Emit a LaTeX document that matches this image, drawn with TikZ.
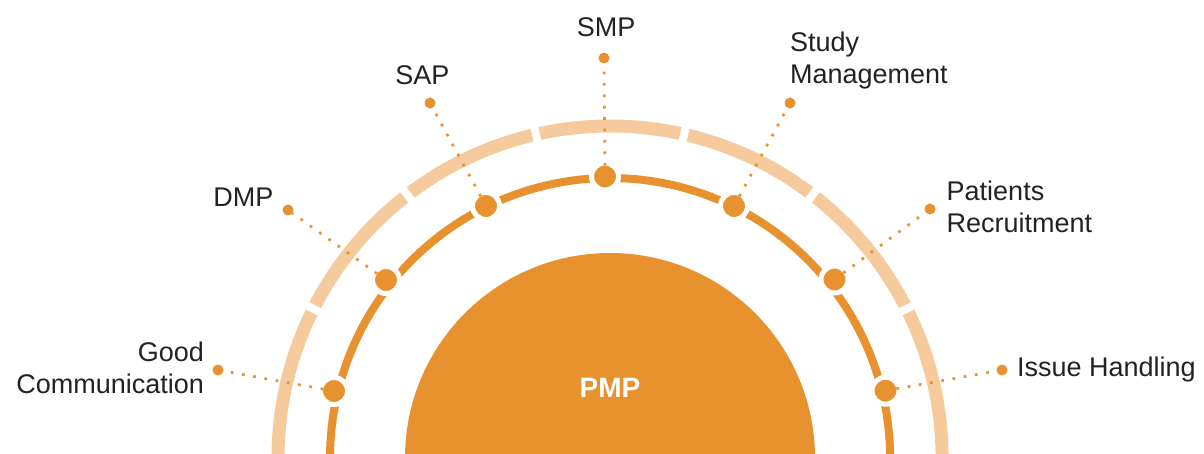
\documentclass[tikz,border=0pt]{standalone}
\usepackage{fontspec}
\setmainfont{Liberation Sans}
\definecolor{dorange}{HTML}{E8912F}
\definecolor{lorange}{HTML}{F5CB9D}
\definecolor{txt}{HTML}{222222}
\begin{document}
\begin{tikzpicture}[x=1pt,y=1pt,
  lbl/.style={font=\fontsize{27}{32}\selectfont, text=txt, inner sep=0pt, outer sep=0pt},
  mlbl/.style={lbl, text width=220pt},
  bigdot/.style={circle, fill=dorange, draw=white, line width=5pt, minimum size=27pt, inner sep=0pt, outer sep=-2.5pt},
  enddot/.style={circle, fill=dorange, minimum size=11pt, inner sep=0pt, outer sep=0pt},
  link/.style={dorange, line width=2.7pt, dash pattern=on 2.7pt off 8.7pt}]
\useasboundingbox (0,0) rectangle (1204,453);
\clip (0,0) rectangle (1204,453);
\coordinate (C) at (610,-5);
% outer light ring with gaps
\draw[lorange, line width=13pt] ([shift={(-10:332)}]C) arc[start angle=-10, end angle=190, radius=332];
\foreach \a in {26.7,52.4,77.1,102.9,127.6,153.3}
  \draw[white, line width=8pt] ([shift={(\a:318)}]C) -- ([shift={(\a:346)}]C);
% inner ring
\draw[dorange, line width=8pt] ([shift={(-10:280)}]C) arc[start angle=-10, end angle=190, radius=280];
% PMP half disc
\fill[dorange] ([shift={(0:205)}]C) arc[start angle=0, end angle=180, radius=205] -- cycle;
\node[font=\fontsize{28}{32}\selectfont\bfseries, text=white, anchor=base, inner sep=0pt] (pmp) at (610,56) {PMP};
% dots on inner ring
\node[bigdot] (d1) at (334,62) {};
\node[bigdot] (d2) at (386,173) {};
\node[bigdot] (d3) at (486,247) {};
\node[bigdot] (d4) at (605,276.5) {};
\node[bigdot] (d5) at (734,247) {};
\node[bigdot] (d6) at (834.5,173.5) {};
\node[bigdot] (d7) at (885.5,62.3) {};
% end dots
\node[enddot] (e1) at (218,83) {};
\node[enddot] (e2) at (288,243) {};
\node[enddot] (e3) at (430,350) {};
\node[enddot] (e4) at (604,395) {};
\node[enddot] (e5) at (790,350) {};
\node[enddot] (e6) at (930,244) {};
\node[enddot] (e7) at (1002,83) {};
% dotted links
\draw[link] (d1) -- (e1);
\draw[link] (d2) -- (e2);
\draw[link] (d3) -- (e3);
\draw[link] (d4) -- (e4);
\draw[link] (d5) -- (e5);
\draw[link] (d6) -- (e6);
\draw[link] (d7) -- (e7);
% labels
\node[mlbl, align=right, anchor=base east] (l1) at (204,91.3) {Good\\Communication};
\node[lbl, anchor=base] (l2) at (243.4,246.3) {DMP};
\node[lbl, anchor=base] (l3) at (422.4,368) {SAP};
\node[lbl, anchor=base] (l4) at (606,416.3) {SMP};
\node[mlbl, align=left, anchor=base west] (l5) at (790,401.3) {Study\\Management};
\node[mlbl, align=left, anchor=base west] (l6) at (946.7,252.3) {Patients\\Recruitment};
\node[lbl, anchor=base west] (l7) at (1017,76.3) {Issue Handling};
\end{tikzpicture}
\end{document}
